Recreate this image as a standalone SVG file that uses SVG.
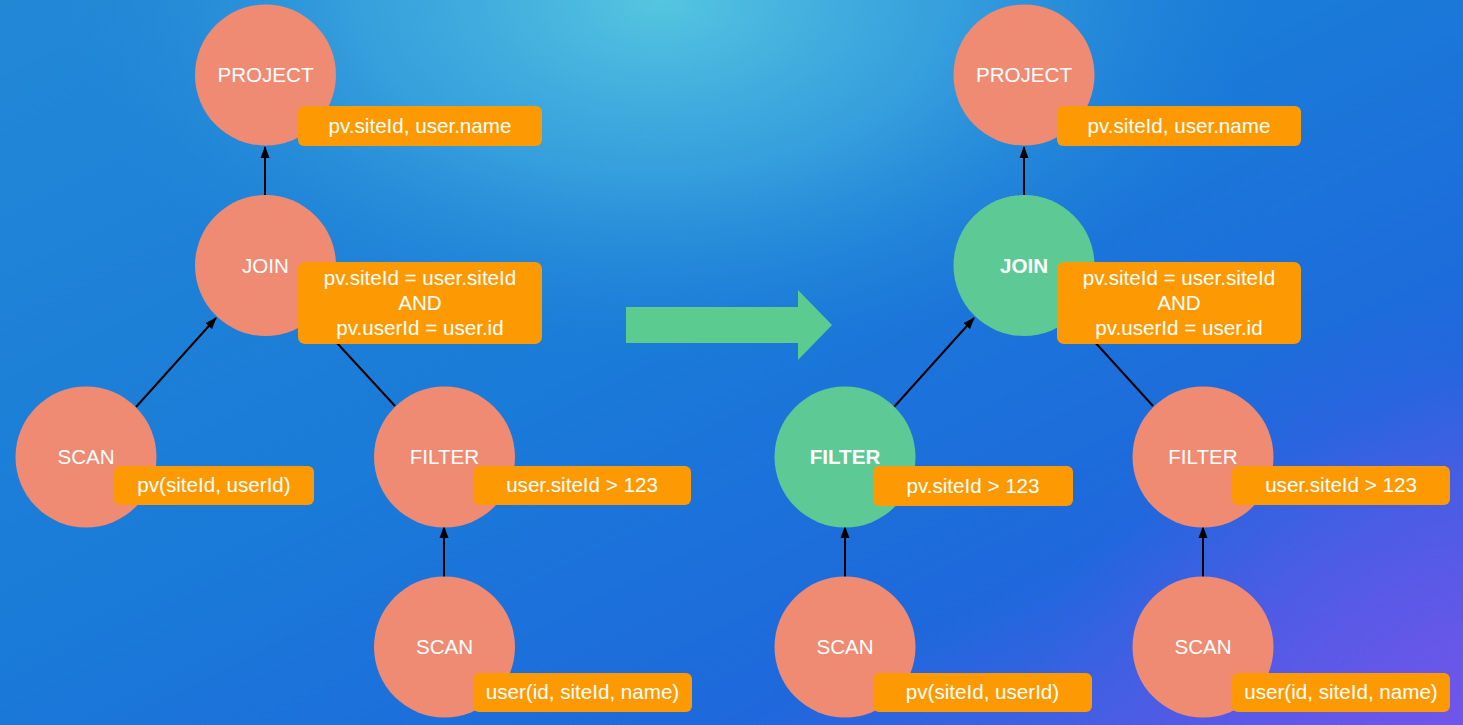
<svg xmlns="http://www.w3.org/2000/svg" width="1463" height="725" viewBox="0 0 1463 725">
<defs>
<linearGradient id="bg" x1="0" y1="0" x2="1" y2="1">
<stop offset="0" stop-color="#2288d6"/>
<stop offset="0.45" stop-color="#1a7bd8"/>
<stop offset="0.75" stop-color="#1e68dc"/>
<stop offset="1" stop-color="#6e55ea"/>
</linearGradient>
<radialGradient id="hl" cx="660" cy="0" r="600" gradientUnits="userSpaceOnUse" gradientTransform="translate(660 0) scale(1 0.6) translate(-660 0)">
<stop offset="0" stop-color="#55c6e0" stop-opacity="1"/>
<stop offset="0.5" stop-color="#45b2e0" stop-opacity="0.6"/>
<stop offset="1" stop-color="#2a8ed8" stop-opacity="0"/>
</radialGradient>
<radialGradient id="pr" cx="1463" cy="725" r="420" gradientUnits="userSpaceOnUse">
<stop offset="0" stop-color="#7056ea" stop-opacity="0.9"/>
<stop offset="1" stop-color="#5058e6" stop-opacity="0"/>
</radialGradient>
<marker id="ah" viewBox="0 0 12 10" refX="11" refY="5" markerWidth="12" markerHeight="10" markerUnits="userSpaceOnUse" orient="auto">
<path d="M0,0.5 L12,5 L0,9.5 Z" fill="#000"/>
</marker>
<style>
.op{fill:#ef8a73}
.gr{fill:#5dc994}
.box{fill:#fd9a03}
.t{font-family:"Liberation Sans",Arial,sans-serif;font-size:20.6px;fill:#fff;text-anchor:middle}
.b{font-weight:bold}
.ln{stroke:#000;stroke-width:2;fill:none}
</style>
</defs>
<rect width="1463" height="725" fill="url(#bg)"/>
<rect width="1463" height="725" fill="url(#hl)"/>
<rect width="1463" height="725" fill="url(#pr)"/>

<g id="connectors">
<line class="ln" x1="265" y1="195" x2="265" y2="147" marker-end="url(#ah)"/>
<line class="ln" x1="136" y1="407" x2="216" y2="318" marker-end="url(#ah)"/>
<line class="ln" x1="395" y1="406" x2="314" y2="318" marker-end="url(#ah)"/>
<line class="ln" x1="444" y1="577" x2="444" y2="527" marker-end="url(#ah)"/>
<line class="ln" x1="1024" y1="195" x2="1024" y2="147" marker-end="url(#ah)"/>
<line class="ln" x1="894" y1="407" x2="974" y2="318" marker-end="url(#ah)"/>
<line class="ln" x1="1153" y1="406" x2="1073" y2="318" marker-end="url(#ah)"/>
<line class="ln" x1="845" y1="577" x2="845" y2="527" marker-end="url(#ah)"/>
<line class="ln" x1="1203" y1="577" x2="1203" y2="527" marker-end="url(#ah)"/>
</g>

<g id="transform-arrow">
<path d="M626,307 L798,307 L798,290 L832,325 L798,360 L798,343 L626,343 Z" fill="#5ccb8f"/>
</g>

<g id="l-project">
<circle class="op" cx="265.5" cy="75" r="70.5"/>
<text class="t" x="265.5" y="82">PROJECT</text>
<rect class="box" x="298" y="106" width="244" height="40" rx="6"/>
<text class="t" x="420" y="133">pv.siteId, user.name</text>
</g>
<g id="l-join">
<circle class="op" cx="265.5" cy="265.5" r="70.5"/>
<text class="t" x="265.5" y="273">JOIN</text>
<rect class="box" x="298" y="262" width="244" height="82" rx="7"/>
<text class="t" x="420" y="285">pv.siteId = user.siteId</text>
<text class="t" x="420" y="310">AND</text>
<text class="t" x="420" y="335">pv.userId = user.id</text>
</g>
<g id="l-scan-pv">
<circle class="op" cx="86" cy="457" r="70.5"/>
<text class="t" x="86" y="464">SCAN</text>
<rect class="box" x="114" y="466" width="200" height="39" rx="6"/>
<text class="t" x="214" y="492">pv(siteId, userId)</text>
</g>
<g id="l-filter">
<circle class="op" cx="444.5" cy="457" r="70.5"/>
<text class="t" x="444.5" y="464">FILTER</text>
<rect class="box" x="473" y="466" width="218" height="39" rx="6"/>
<text class="t" x="582" y="492">user.siteId &gt; 123</text>
</g>
<g id="l-scan-user">
<circle class="op" cx="444.5" cy="647" r="70.5"/>
<text class="t" x="444.5" y="654">SCAN</text>
<rect class="box" x="473" y="673" width="219" height="39" rx="6"/>
<text class="t" x="582.5" y="699">user(id, siteId, name)</text>
</g>

<g id="r-project">
<circle class="op" cx="1024" cy="75" r="70.5"/>
<text class="t" x="1024" y="82">PROJECT</text>
<rect class="box" x="1057" y="106" width="244" height="40" rx="6"/>
<text class="t" x="1179" y="133">pv.siteId, user.name</text>
</g>
<g id="r-join">
<circle class="gr" cx="1024" cy="265.5" r="70.5"/>
<text class="t b" x="1024" y="273">JOIN</text>
<rect class="box" x="1057" y="262" width="244" height="82" rx="7"/>
<text class="t" x="1179" y="285">pv.siteId = user.siteId</text>
<text class="t" x="1179" y="310">AND</text>
<text class="t" x="1179" y="335">pv.userId = user.id</text>
</g>
<g id="r-filter-pv">
<circle class="gr" cx="845" cy="457" r="70.5"/>
<text class="t b" x="845" y="464">FILTER</text>
<rect class="box" x="873" y="466" width="200" height="40" rx="6"/>
<text class="t" x="973" y="493">pv.siteId &gt; 123</text>
</g>
<g id="r-filter-user">
<circle class="op" cx="1203" cy="457" r="70.5"/>
<text class="t" x="1203" y="464">FILTER</text>
<rect class="box" x="1232" y="466" width="218" height="39" rx="6"/>
<text class="t" x="1341" y="492">user.siteId &gt; 123</text>
</g>
<g id="r-scan-pv">
<circle class="op" cx="845" cy="647" r="70.5"/>
<text class="t" x="845" y="654">SCAN</text>
<rect class="box" x="873" y="673" width="219" height="39" rx="6"/>
<text class="t" x="982.5" y="699">pv(siteId, userId)</text>
</g>
<g id="r-scan-user">
<circle class="op" cx="1203" cy="647" r="70.5"/>
<text class="t" x="1203" y="654">SCAN</text>
<rect class="box" x="1232" y="673" width="218" height="39" rx="6"/>
<text class="t" x="1341" y="699">user(id, siteId, name)</text>
</g>
</svg>
